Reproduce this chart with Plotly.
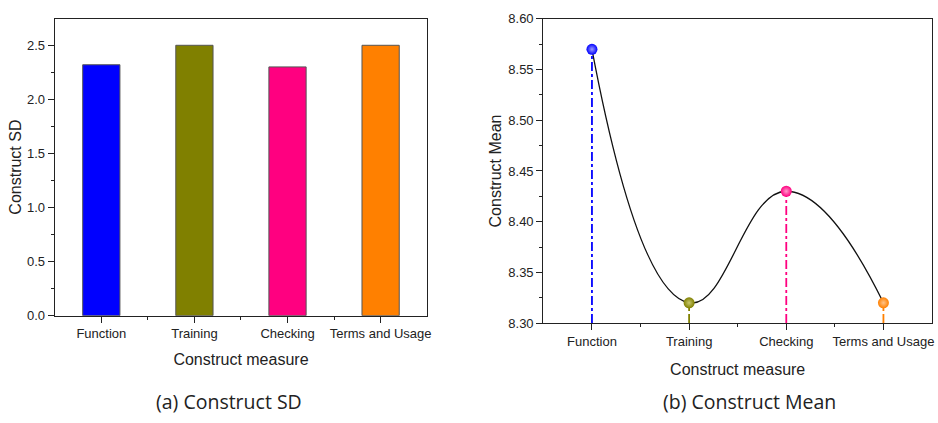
import plotly.graph_objects as go

# Construct measures and their statistics
categories = ["Function", "Training", "Checking", "Terms and Usage"]
sd_values = [2.32, 2.50, 2.30, 2.50]
mean_values = [8.57, 8.32, 8.43, 8.32]
colors = ["#0000FF", "#808000", "#FF0080", "#FF8000"]
highlights = ["#9A9AFF", "#C8C870", "#FF9ACB", "#FFC48A"]

sd_ticks = [0.0, 0.5, 1.0, 1.5, 2.0, 2.5]
mean_ticks = [8.30, 8.35, 8.40, 8.45, 8.50, 8.55, 8.60]

FONT = "Liberation Sans, Arial, sans-serif"
CAPTION_FONT = "Open Sans, Noto Sans, sans-serif"
INK = "#222222"
W, H = 938, 423

fig = go.Figure()

# (a) bar chart of construct SD
fig.add_trace(go.Bar(
    x=categories, y=sd_values, width=0.4,
    marker=dict(color=colors, line=dict(color="#555555", width=1)),
    xaxis="x", yaxis="y", showlegend=False,
))

# (b) smooth curve through the construct means
fig.add_trace(go.Scatter(
    x=categories, y=mean_values, mode="lines",
    line=dict(color="#111111", width=1.3, shape="spline", smoothing=1.3),
    xaxis="x2", yaxis="y2", showlegend=False,
))

# dash-dot drop lines from each mean to the axis floor
for cat, val, col in zip(categories, mean_values, colors):
    fig.add_trace(go.Scatter(
        x=[cat, cat], y=[mean_ticks[0], val], mode="lines",
        line=dict(color=col, width=1.8, dash="dashdot"),
        xaxis="x2", yaxis="y2", showlegend=False, hoverinfo="skip",
    ))

# shaded ball markers
fig.add_trace(go.Scatter(
    x=categories, y=mean_values, mode="markers",
    marker=dict(size=11, color=colors,
                gradient=dict(type="radial", color=highlights),
                line=dict(width=0)),
    xaxis="x2", yaxis="y2", showlegend=False,
))

axis_common = dict(
    showline=True, linecolor=INK, linewidth=1.3, mirror=True,
    showgrid=False, zeroline=False,
    ticks="outside", ticklen=6, tickwidth=1.2, tickcolor=INK,
    tickfont=dict(family=FONT, size=13, color=INK),
)
title_font = dict(family=FONT, size=16, color=INK)
minor_x = dict(ticks="outside", ticklen=3, tickwidth=1, tickcolor=INK,
               tickvals=[0.5, 1.5, 2.5])

fig.update_layout(
    width=W, height=H,
    margin=dict(l=0, r=0, t=0, b=0),
    plot_bgcolor="white", paper_bgcolor="white",
    xaxis=dict(**axis_common, domain=[55 / W, 429 / W],
               range=[-0.5, 3.5], anchor="y", type="category",
               title=dict(text="Construct measure", standoff=13, font=title_font)),
    yaxis=dict(**axis_common, domain=[1 - 320 / H, 1 - 12 / H],
               range=[0, 2.747], anchor="x",
               tickvals=sd_ticks, ticktext=[f"{v:.1f}" for v in sd_ticks],
               minor=dict(ticks="outside", ticklen=3, tickwidth=1,
                          tickcolor=INK, dtick=0.25),
               title=dict(text="Construct SD", standoff=1, font=title_font)),
    xaxis2=dict(**axis_common, domain=[545.7 / W, 936 / W],
                range=[-0.5, 3.5], anchor="y2", type="category",
                title=dict(text="Construct measure", standoff=15, font=title_font)),
    yaxis2=dict(**axis_common, domain=[1 - 327.7 / H, 1 - 12.3 / H],
                range=[8.30, 8.60], anchor="x2",
                tickvals=mean_ticks, ticktext=[f"{v:.2f}" for v in mean_ticks],
                minor=dict(ticks="outside", ticklen=3, tickwidth=1,
                           tickcolor=INK, dtick=0.025),
                title=dict(text="Construct Mean", standoff=2, font=title_font)),
    annotations=[
        dict(text="(a) Construct SD", x=230 / W, y=1 - 409 / H,
             xref="paper", yref="paper", xanchor="center", yanchor="middle",
             showarrow=False, font=dict(family=CAPTION_FONT, size=19.5, color=INK)),
        dict(text="(b) Construct Mean", x=753 / W, y=1 - 409 / H,
             xref="paper", yref="paper", xanchor="center", yanchor="middle",
             showarrow=False, font=dict(family=CAPTION_FONT, size=19.5, color=INK)),
    ],
    # minor ticks at the category boundaries, drawn by overlay axes
    xaxis3=dict(overlaying="x", range=[-0.5, 3.5], anchor="y",
                showline=False, showgrid=False, zeroline=False,
                showticklabels=False, **minor_x),
    xaxis4=dict(overlaying="x2", range=[-0.5, 3.5], anchor="y2",
                showline=False, showgrid=False, zeroline=False,
                showticklabels=False, **minor_x),
)
fig.add_trace(go.Scatter(x=[0], y=[0], xaxis="x3", yaxis="y", mode="markers",
                         marker=dict(opacity=0), showlegend=False, hoverinfo="skip"))
fig.add_trace(go.Scatter(x=[0], y=[8.3], xaxis="x4", yaxis="y2", mode="markers",
                         marker=dict(opacity=0), showlegend=False, hoverinfo="skip"))

fig.write_html("out.html")
